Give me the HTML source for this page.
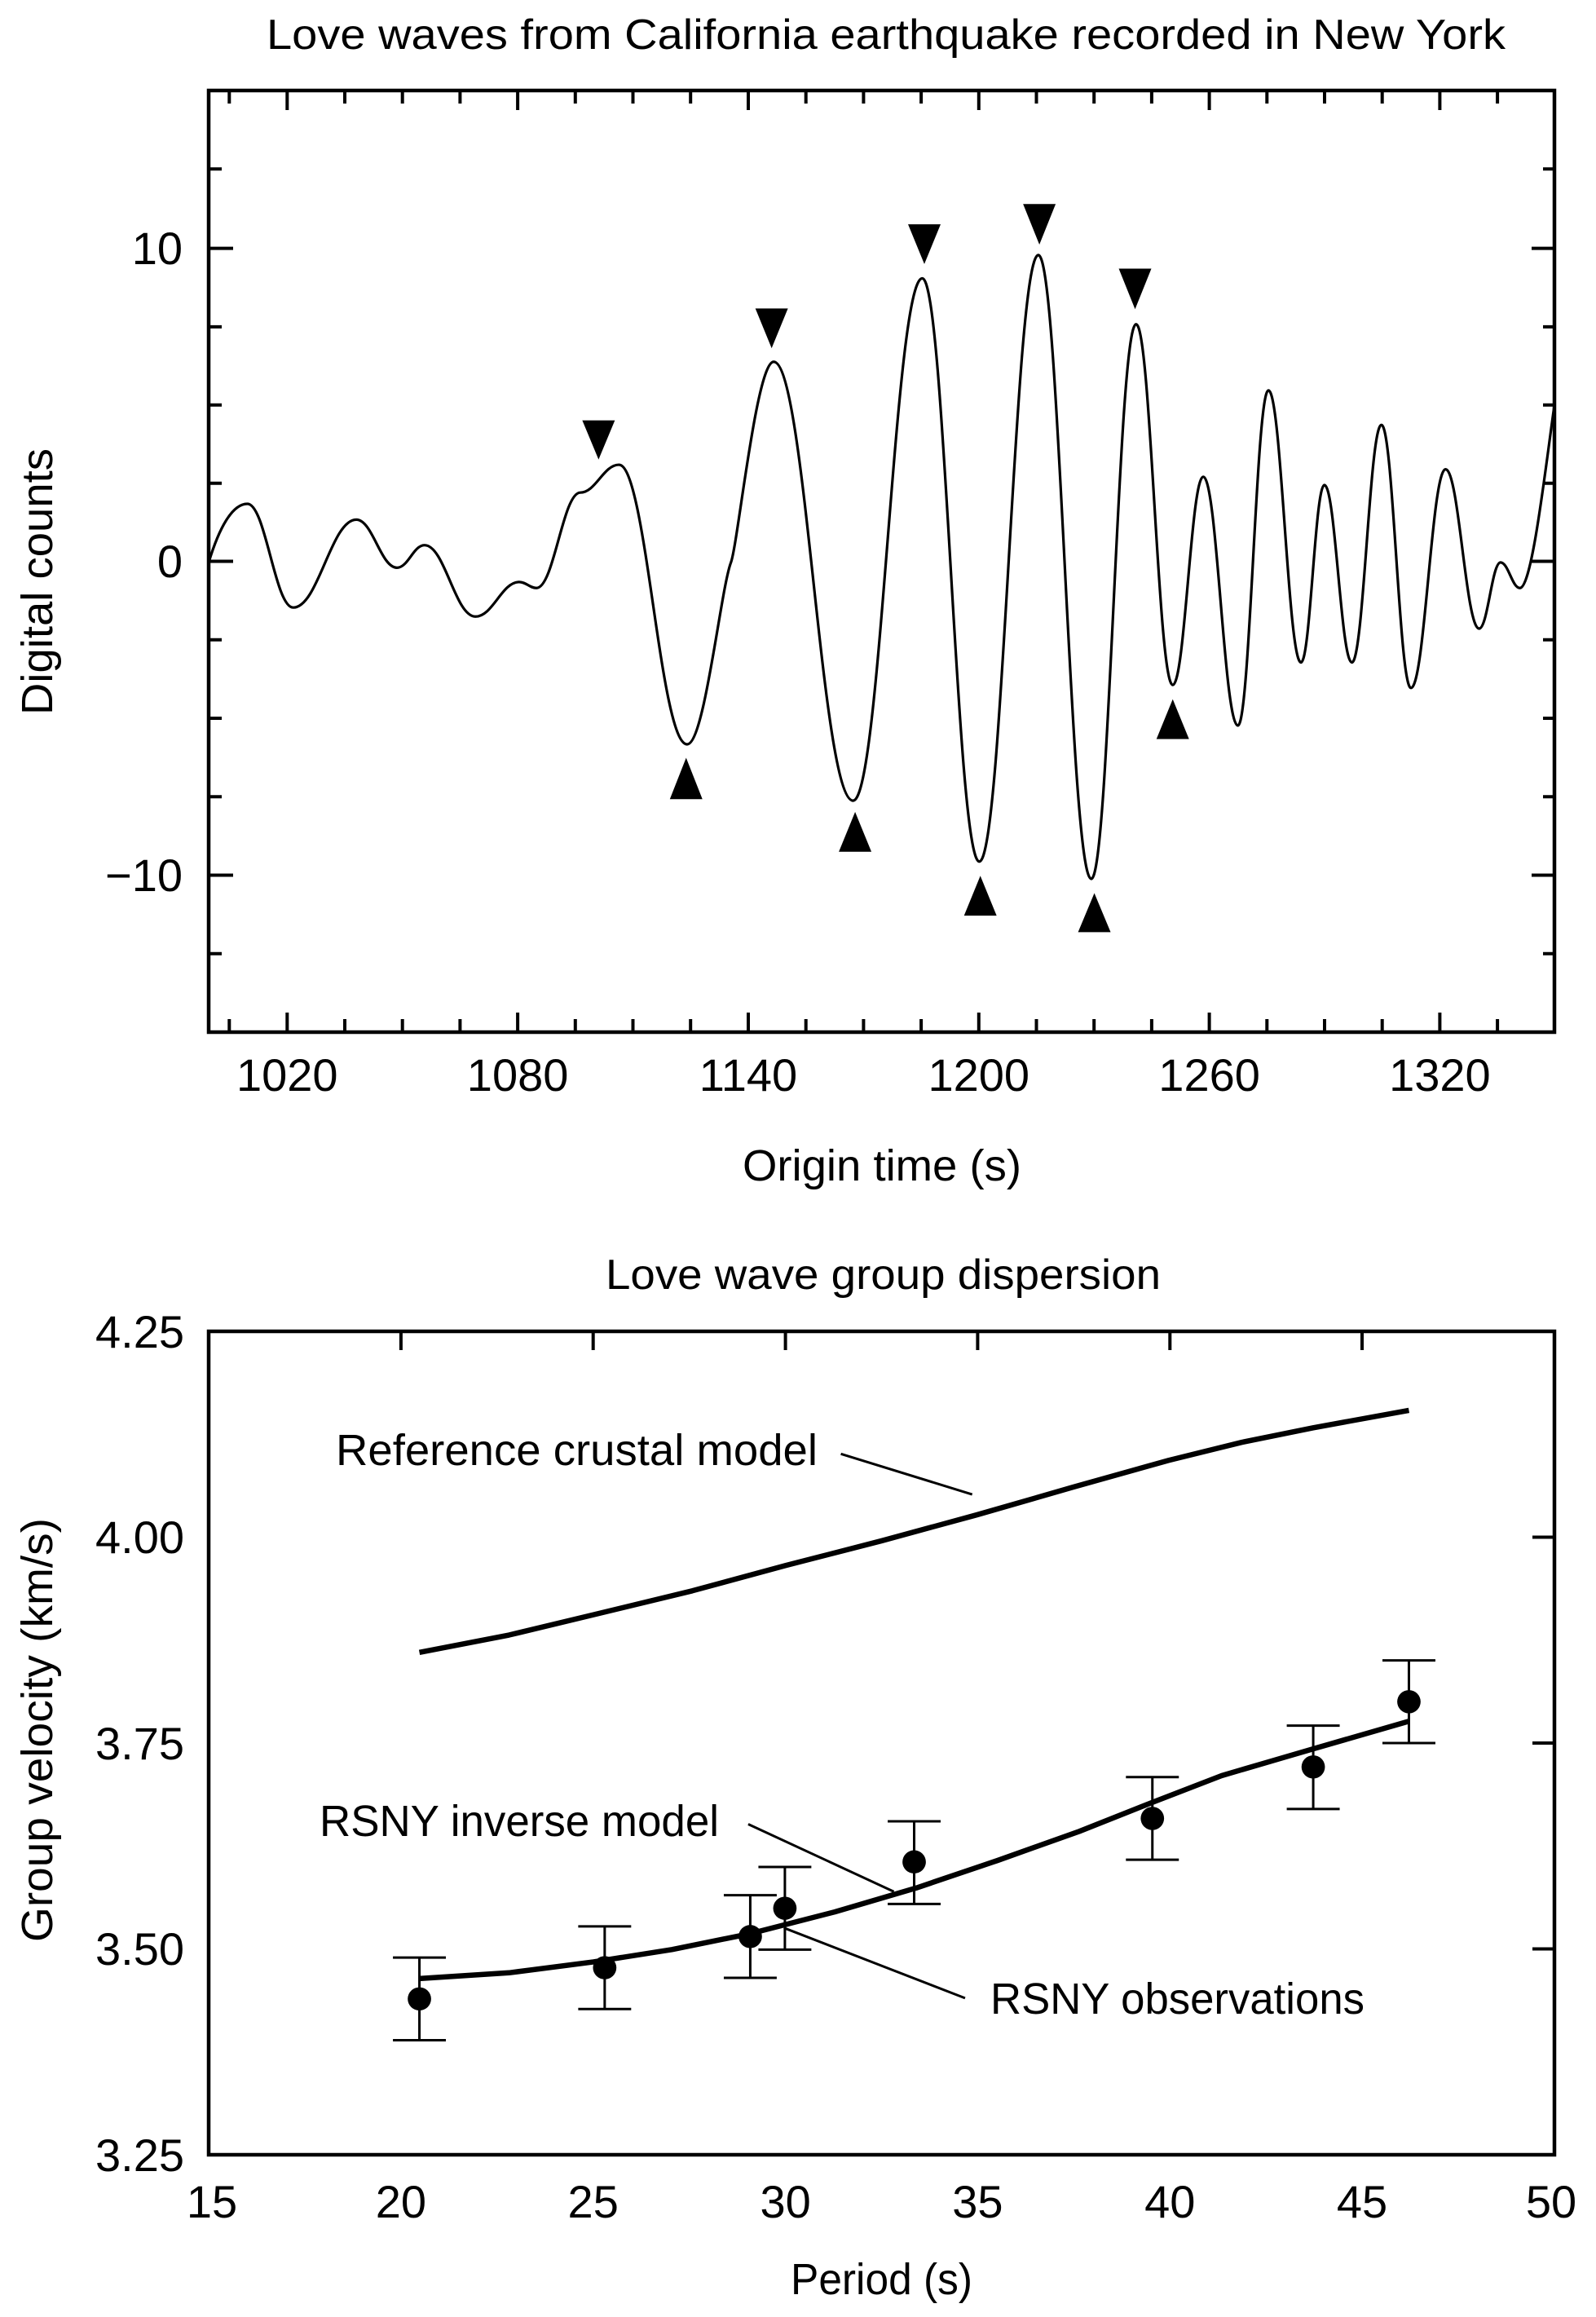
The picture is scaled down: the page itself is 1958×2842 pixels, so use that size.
<!DOCTYPE html>
<html><head><meta charset="utf-8"><style>
html,body{margin:0;padding:0;background:#fff}
svg{display:block}
text{font-family:"Liberation Sans",sans-serif;fill:#000}
</style></head><body>
<svg width="1958" height="2842" viewBox="0 0 1958 2842" xmlns="http://www.w3.org/2000/svg">
<!-- ===== TOP CHART ===== -->
<text x="327" y="60" font-size="52" textLength="1520" lengthAdjust="spacingAndGlyphs">Love waves from California earthquake recorded in New York</text>
<rect x="256" y="111" width="1651" height="1155" fill="none" stroke="#000" stroke-width="4.5"/>
<g stroke="#000" stroke-width="4">
<!-- x ticks every 15 s, top and bottom -->
<path d="M281.3,111v16M352.3,111v24M423,111v16M493.7,111v16M564.4,111v16M635.1,111v24M705.8,111v16M776.5,111v16M847.2,111v16M918,111v24M988.7,111v16M1059.4,111v16M1130.1,111v16M1200.8,111v24M1271.5,111v16M1342.2,111v16M1412.9,111v16M1483.6,111v24M1554.3,111v16M1625,111v16M1695.7,111v16M1766.4,111v24M1837.1,111v16"/>
<path d="M281.3,1266v-16M352.3,1266v-24M423,1266v-16M493.7,1266v-16M564.4,1266v-16M635.1,1266v-24M705.8,1266v-16M776.5,1266v-16M847.2,1266v-16M918,1266v-24M988.7,1266v-16M1059.4,1266v-16M1130.1,1266v-16M1200.8,1266v-24M1271.5,1266v-16M1342.2,1266v-16M1412.9,1266v-16M1483.6,1266v-24M1554.3,1266v-16M1625,1266v-16M1695.7,1266v-16M1766.4,1266v-24M1837.1,1266v-16"/>
<!-- y ticks every 2.5 -->
<path d="M256,207.3h16M256,304.6h30M256,400.9h16M256,496.7h16M256,592.8h16M256,688.5h30M256,784.8h16M256,881h16M256,977.3h16M256,1073.5h30M256,1169.8h16"/>
<path d="M1907,207.3h-14M1907,304.6h-28M1907,400.9h-14M1907,496.7h-14M1907,592.8h-14M1907,688.5h-28M1907,784.8h-14M1907,881h-14M1907,977.3h-14M1907,1073.5h-28M1907,1169.8h-14"/>
</g>
<g font-size="56" text-anchor="end">
<text x="224" y="324">10</text>
<text x="224" y="708">0</text>
<text x="224" y="1093">−10</text>
</g>
<g font-size="56" text-anchor="middle">
<text x="352.3" y="1338">1020</text>
<text x="635.1" y="1338">1080</text>
<text x="918" y="1338">1140</text>
<text x="1200.8" y="1338">1200</text>
<text x="1483.6" y="1338">1260</text>
<text x="1766.4" y="1338">1320</text>
</g>
<text x="911" y="1448" font-size="54" textLength="342" lengthAdjust="spacingAndGlyphs">Origin time (s)</text>
<text transform="translate(64,877) rotate(-90)" font-size="54" textLength="327" lengthAdjust="spacingAndGlyphs">Digital counts</text>

<g transform="matrix(1.2489,0,0,0.9218,0,3.15)">
<path vector-effect="non-scaling-stroke" fill="none" stroke="#000" stroke-width="3.2" stroke-linejoin="round" d="M205,745 C215,700 228,667 243,667
C261,667 270,805 288,805
C312.8,805 325.2,688 350,688
C366,688 374,752 390,752
C400.8,752 406.2,722 417,722
C437,722 447,817 467,817
C484.2,817 492.8,771 510,771
C516.8,771 520.2,779 527,779
C544.2,779 552.8,652 570,652
C585.2,652 592.8,615 608,615
C634.8,615 648.2,987 675,987
C692,987 708,780 718,745
C725,720 743,478 760,478
C791.2,478 806.8,1062 838,1062
C865.2,1062 878.8,367 906,367
C928.4,367 939.6,1143 962,1143
C985.2,1143 996.8,336 1020,336
C1040.8,336 1051.2,1166 1072,1166
C1089.6,1166 1098.4,428 1116,428
C1130.4,428 1137.6,908 1152,908
C1164,908 1170,631 1182,631
C1195.6,631 1202.4,962 1216,962
C1228,962 1234,516 1246,516
C1258.8,516 1265.2,878 1278,878
C1287.2,878 1291.8,642 1301,642
C1311.8,642 1317.2,878 1328,878
C1339.6,878 1345.4,562 1357,562
C1368.6,562 1374.4,912 1386,912
C1399.6,912 1406.4,621 1420,621
C1433.2,621 1439.8,833 1453,833
C1461.4,833 1465.6,745 1474,745
C1481.6,745 1485.4,779 1493,779
C1505,779 1518,620 1527,535"/>
<g fill="#000">
<!-- down triangles -->
<polygon points="572,556 604,556 588,608"/>
<polygon points="742,407 774,407 758,460"/>
<polygon points="892,295 924,295 908,348"/>
<polygon points="1005,268 1037,268 1021,322"/>
<polygon points="1099,354 1131,354 1115,408"/>
<!-- up triangles -->
<polygon points="658,1060 690,1060 674,1005"/>
<polygon points="824,1130 856,1130 840,1077"/>
<polygon points="947,1215 979,1215 963,1162"/>
<polygon points="1059,1237 1091,1237 1075,1185"/>
<polygon points="1136,980 1168,980 1152,927"/>
</g>
</g>

<!-- ===== BOTTOM CHART ===== -->
<text x="743" y="1581" font-size="52" textLength="681" lengthAdjust="spacingAndGlyphs">Love wave group dispersion</text>
<rect x="256" y="1633" width="1651" height="1010" fill="none" stroke="#000" stroke-width="4.5"/>
<g stroke="#000" stroke-width="4">
<path d="M491.9,1633v23M727.7,1633v23M963.6,1633v23M1199.4,1633v23M1435.3,1633v23M1671,1633v23"/>
<path d="M1907,1885.5h-27M1907,2138h-27M1907,2390.5h-27"/>
</g>
<g font-size="56" text-anchor="end">
<text x="226" y="1653">4.25</text>
<text x="226" y="1905">4.00</text>
<text x="226" y="2158">3.75</text>
<text x="226" y="2410">3.50</text>
<text x="226" y="2663">3.25</text>
</g>
<g font-size="56" text-anchor="middle">
<text x="260" y="2720">15</text>
<text x="491.9" y="2720">20</text>
<text x="727.7" y="2720">25</text>
<text x="963.6" y="2720">30</text>
<text x="1199.4" y="2720">35</text>
<text x="1435.3" y="2720">40</text>
<text x="1671" y="2720">45</text>
<text x="1903" y="2720">50</text>
</g>
<text x="970" y="2814" font-size="54" textLength="223" lengthAdjust="spacingAndGlyphs">Period (s)</text>
<text transform="translate(64,2382) rotate(-90)" font-size="54" textLength="520" lengthAdjust="spacingAndGlyphs">Group velocity (km/s)</text>
<text x="412" y="1797" font-size="54" textLength="591" lengthAdjust="spacingAndGlyphs">Reference crustal model</text>
<text x="392" y="2252" font-size="54" textLength="490" lengthAdjust="spacingAndGlyphs">RSNY inverse model</text>
<text x="1215" y="2470" font-size="54" textLength="459" lengthAdjust="spacingAndGlyphs">RSNY observations</text>

<g transform="matrix(1.2489,0,0,0.889,0,1449)">
<polyline vector-effect="non-scaling-stroke" fill="none" stroke="#000" stroke-width="6.5" stroke-linejoin="round" points="412,650 500,626 583,598 680,565 772,530 866,496 960,460 1054,422 1148,385 1220,360 1290,340 1384,316"/>
<polyline vector-effect="non-scaling-stroke" fill="none" stroke="#000" stroke-width="6.5" stroke-linejoin="round" points="412,1100 500,1092 583,1077 660,1060 737,1038 820,1008 900,975 980,937 1060,897 1130,858 1200,820 1290,783 1384,745"/>
<g vector-effect="non-scaling-stroke" stroke="#000" stroke-width="3" fill="none">
<path vector-effect="non-scaling-stroke" d="M826,376L955,432M735,887L878,980M770,1030L948,1127"/>
<path vector-effect="non-scaling-stroke" d="M412,1071V1185M386,1071H438M386,1185H438
M594,1028V1142M568,1028H620M568,1142H620
M737,985V1099M711,985H763M711,1099H763
M771,946V1060M745,946H797M745,1060H797
M898,883V997M872,883H924M872,997H924
M1132,822V936M1106,822H1158M1106,936H1158
M1290,751V866M1264,751H1316M1264,866H1316
M1384,661V775M1358,661H1410M1358,775H1410"/>
</g>
<g fill="#000">
<ellipse cx="412" cy="1128" rx="11.5" ry="16"/>
<ellipse cx="594" cy="1085" rx="11.5" ry="16"/>
<ellipse cx="737" cy="1042" rx="11.5" ry="16"/>
<ellipse cx="771" cy="1003" rx="11.5" ry="16"/>
<ellipse cx="898" cy="939" rx="11.5" ry="16"/>
<ellipse cx="1132" cy="879" rx="11.5" ry="16"/>
<ellipse cx="1290" cy="808" rx="11.5" ry="16"/>
<ellipse cx="1384" cy="718" rx="11.5" ry="16"/>
</g>
</g>
</svg>
</body></html>
